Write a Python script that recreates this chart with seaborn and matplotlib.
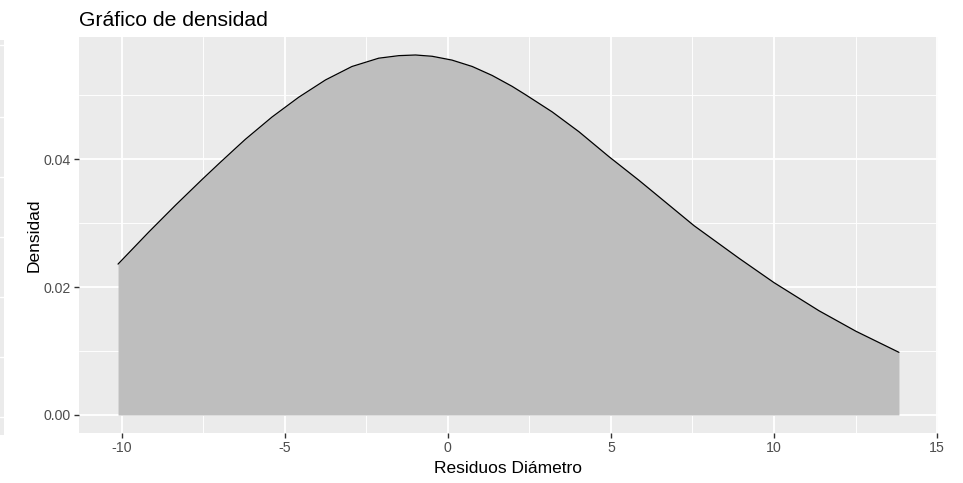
import numpy as np
import pandas as pd
import seaborn as sns
import matplotlib
matplotlib.use("Agg")
import matplotlib.pyplot as plt
from matplotlib.ticker import MultipleLocator, FormatStrFormatter

# Estimated density of the diameter residuals
residuos = [-10.11, -9.17, -8.35, -7.54, -7.02, -6.51, -6.21, -5.39, -4.57, -3.75,
            -2.94, -2.12, -1.50, -0.99, -0.48, 0.13, 0.75, 1.36, 1.97, 2.38,
            3.20, 4.02, 4.94, 5.86, 6.17, 7.55, 8.93, 10.00, 11.38, 12.51, 13.83]
densidad = [0.0236, 0.0286, 0.0328, 0.0368, 0.0393, 0.0417, 0.0431, 0.0466, 0.0497, 0.0524,
            0.0545, 0.0558, 0.0562, 0.0563, 0.0561, 0.0555, 0.0545, 0.0531, 0.0514, 0.0501,
            0.0474, 0.0443, 0.0404, 0.0367, 0.0354, 0.0296, 0.0245, 0.0207, 0.0163, 0.0131,
            0.0098]

x_ticks = [-10, -5, 0, 5, 10, 15]
y_ticks = [0.00, 0.02, 0.04]

df = pd.DataFrame({"Residuos": residuos, "Densidad": densidad})

sns.set_theme(style="white")
plt.rcParams["font.family"] = ["Liberation Sans", "DejaVu Sans"]
plt.rcParams["axes.unicode_minus"] = False

W, H = 963, 483
fig = plt.figure(figsize=(W / 100, H / 100), dpi=100)
fig.patch.set_facecolor("white")

panel_bg = "#EBEBEB"

# narrow strip of a neighbouring panel at the left edge
strip = fig.add_axes([0, (H - 435) / H, 4 / W, (435 - 40) / H])
strip.set_facecolor(panel_bg)
strip.set_xlim(0, 1)
strip.set_ylim(0, 395)
strip.set_yticks([18, 78, 138, 198, 258, 318, 390])
strip.grid(axis="y", color="white", lw=1.0)
strip.tick_params(left=False, bottom=False, labelleft=False, labelbottom=False)
for s in strip.spines.values():
    s.set_visible(False)

left, right, top, bottom = 79, 938, 37, 433
ax = fig.add_axes([left / W, (H - bottom) / H, (right - left) / W, (bottom - top) / H])
ax.set_facecolor(panel_bg)

ax.fill_between(df["Residuos"], 0, df["Densidad"], color="#BEBEBE", lw=0, zorder=2)
sns.lineplot(data=df, x="Residuos", y="Densidad", ax=ax, color="black", lw=0.9,
             zorder=3, sort=True)

xr = max(residuos) - min(residuos)
ax.set_xlim(min(residuos) - 0.05 * xr, max(residuos) + 0.05 * xr)
ymax = max(densidad)
ax.set_ylim(-0.05 * ymax, ymax * 1.05)

ax.set_xticks(x_ticks)
ax.set_yticks(y_ticks)
ax.xaxis.set_minor_locator(MultipleLocator(2.5))
ax.yaxis.set_minor_locator(MultipleLocator(0.01))
ax.yaxis.set_major_formatter(FormatStrFormatter("%.2f"))

ax.grid(which="major", color="white", lw=1.3, zorder=0)
ax.grid(which="minor", color="white", lw=0.65, zorder=0)
ax.set_axisbelow(True)
for s in ax.spines.values():
    s.set_visible(False)

ax.tick_params(which="major", length=3.5, width=1.0, color="#333333",
               labelcolor="#4D4D4D", labelsize=10.2, pad=2.5,
               bottom=True, left=True)
ax.tick_params(which="minor", length=0, bottom=False, left=False)

ax.set_xlabel("Residuos Diámetro", fontsize=12.5, color="black", labelpad=4)
ax.set_ylabel("Densidad", fontsize=12.5, color="black", labelpad=1)
ax.set_title("Gráfico de densidad", loc="left", fontsize=15.2, color="black", pad=8)

fig.savefig("out.png", dpi=100, facecolor="white")
